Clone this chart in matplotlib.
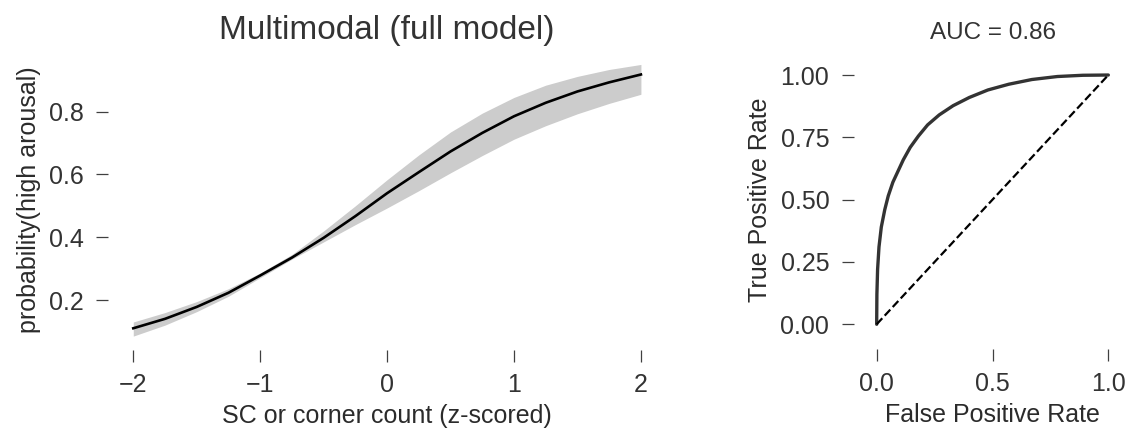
import matplotlib
matplotlib.use("Agg")
import matplotlib.pyplot as plt
import numpy as np

# ---------------- data ----------------
z_scores = [-2.0, -1.75, -1.5, -1.25, -1.0, -0.75, -0.5, -0.25, 0.0,
            0.25, 0.5, 0.75, 1.0, 1.25, 1.5, 1.75, 2.0]
prob_mean = [0.110, 0.140, 0.178, 0.223, 0.278, 0.335, 0.398, 0.467, 0.540,
             0.607, 0.673, 0.732, 0.785, 0.828, 0.864, 0.893, 0.918]
prob_lower = [0.085, 0.120, 0.163, 0.212, 0.271, 0.330, 0.385, 0.440, 0.493,
              0.548, 0.605, 0.660, 0.712, 0.755, 0.793, 0.826, 0.855]
prob_upper = [0.130, 0.160, 0.195, 0.236, 0.286, 0.345, 0.420, 0.500, 0.583,
              0.662, 0.735, 0.795, 0.845, 0.884, 0.912, 0.934, 0.950]

fpr = [0.0, 0.001, 0.004, 0.01, 0.02, 0.035, 0.05, 0.07, 0.09, 0.115, 0.145,
       0.18, 0.22, 0.27, 0.33, 0.40, 0.48, 0.57, 0.67, 0.78, 0.89, 1.0]
tpr = [0.0, 0.12, 0.22, 0.31, 0.39, 0.46, 0.515, 0.57, 0.61, 0.66, 0.71,
       0.755, 0.80, 0.84, 0.877, 0.91, 0.94, 0.963, 0.982, 0.994, 0.999, 1.0]
chance = [0.0, 1.0]

left_xticks = [-2, -1, 0, 1, 2]
left_yticks = [0.2, 0.4, 0.6, 0.8]
roc_xticks = [0.0, 0.5, 1.0]
roc_xticklabels = ["0.0", "0.5", "1.0"]
roc_yticks = [0.0, 0.25, 0.5, 0.75, 1.0]
roc_yticklabels = ["0.00", "0.25", "0.50", "0.75", "1.00"]

title_left = "Multimodal (full model)"
title_right = "AUC = 0.86"

# ---------------- style ----------------
TXT = "#2b2b2b"
plt.rcParams["font.family"] = ["Liberation Sans", "DejaVu Sans"]
plt.rcParams["text.color"] = TXT
plt.rcParams["axes.labelcolor"] = TXT
plt.rcParams["xtick.color"] = TXT
plt.rcParams["ytick.color"] = TXT

W, H = 1130, 429
fig = plt.figure(figsize=(W / 100, H / 100), dpi=100)

def px_axes(left, bottom_px, width, height):
    return fig.add_axes([left / W, (H - bottom_px) / H, width / W, height / H])

ax1 = px_axes(107.9, 350, 558.4, 300)
ax2 = px_axes(853.5, 349.2, 278.0, 299.1)

# left panel
ax1.fill_between(z_scores, prob_lower, prob_upper, color="#cccccc", linewidth=0)
ax1.plot(z_scores, prob_mean, color="black", linewidth=1.9)
ax1.set_xlim(-2.2, 2.2)
ax1.set_ylim(0.0408, 0.996)
ax1.set_xticks(left_xticks)
ax1.set_yticks(left_yticks)
ax1.set_title(title_left, fontsize=24, pad=8, color="#333333")
ax1.set_xlabel("SC or corner count (z-scored)", fontsize=18, labelpad=5)
ax1.set_ylabel("probability(high arousal)", fontsize=18, labelpad=6)

# right panel
ax2.plot(fpr, tpr, color="#333333", linewidth=2.4, solid_capstyle="round")
ax2.plot(chance, chance, color="black", linestyle="--", linewidth=1.6)
ax2.set_xlim(-0.1, 1.1)
ax2.set_ylim(-0.1, 1.1)
ax2.set_xticks(roc_xticks)
ax2.set_xticklabels(roc_xticklabels)
ax2.set_yticks(roc_yticks)
ax2.set_yticklabels(roc_yticklabels)
ax2.set_title(title_right, fontsize=17.5, pad=8, color="#333333")
ax2.set_xlabel("False Positive Rate", fontsize=18, labelpad=5)
ax2.set_ylabel("True Positive Rate", fontsize=18, labelpad=6)

for ax in (ax1, ax2):
    for s in ax.spines.values():
        s.set_visible(False)
    ax.set_facecolor("white")
    ax.tick_params(axis="both", direction="out", length=8.4, width=0.9,
                   labelsize=18, colors="#404040", labelcolor="#333333")
    ax.tick_params(axis="y", pad=9)
    ax.tick_params(axis="x", pad=8)
    ax.grid(False)

fig.savefig("out.png", dpi=100, facecolor="white")
